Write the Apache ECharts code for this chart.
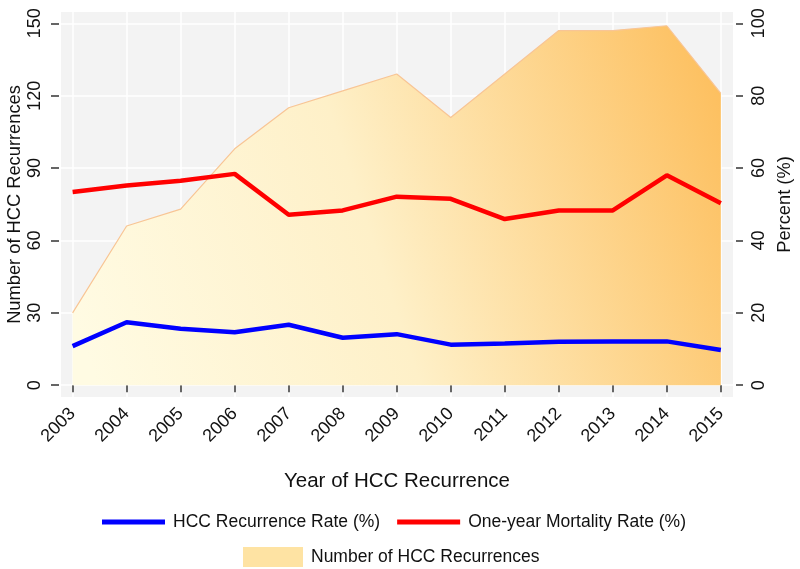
<!DOCTYPE html>
<html>
<head>
<meta charset="utf-8">
<script src="https://cdn.jsdelivr.net/npm/echarts@6/dist/echarts.min.js"></script>
<style>
  html, body { margin: 0; padding: 0; background: #fff; }
  #main { width: 800px; height: 569px; }
</style>
</head>
<body>
<div id="main"></div>
<script>
var years = [2003, 2004, 2005, 2006, 2007, 2008, 2009, 2010, 2011, 2012, 2013, 2014, 2015];
var recurrences = [30, 66, 73, 98, 115, 122, 129, 111, 129, 147, 147, 149, 121];
var recurrenceRate = [10.8, 17.4, 15.6, 14.6, 16.7, 13.1, 14.1, 11.2, 11.5, 12.0, 12.1, 12.1, 9.7];
var mortalityRate = [53.4, 55.2, 56.5, 58.4, 47.1, 48.3, 52.1, 51.5, 45.9, 48.3, 48.3, 58.0, 50.3];
var leftTicks = [0, 30, 60, 90, 120, 150];
var rightTicks = [0, 20, 40, 60, 80, 100];

function pairs(vals) {
    var out = [];
    for (var i = 0; i < years.length; i++) {
        out.push([years[i], vals[i]]);
    }
    return out;
}

var font = 'Liberation Sans, Arial, sans-serif';
var myChart = echarts.init(document.getElementById('main'));

var option = {
    animation: false,
    textStyle: { fontFamily: font },
    grid: {
        left: 61, right: 67, top: 12, bottom: 172,
        outerBoundsMode: 'none',
        containLabel: false,
        show: true,
        backgroundColor: '#f3f3f3',
        borderWidth: 0
    },
    legend: [
        {
            left: 97, top: 508,
            icon: 'rect',
            itemWidth: 63, itemHeight: 5,
            itemGap: 17,
            textStyle: { fontSize: 17.5, color: '#111', fontFamily: font, padding: [0, 0, 0, 3] },
            data: ['HCC Recurrence Rate (%)', 'One-year Mortality Rate (%)']
        },
        {
            left: 238, top: 542,
            icon: 'rect',
            itemWidth: 60, itemHeight: 20,
            textStyle: { fontSize: 17.5, color: '#111', fontFamily: font, padding: [0, 0, 0, 3] },
            data: [{ name: 'Number of HCC Recurrences', itemStyle: { color: '#fee3a3' } }]
        }
    ],
    xAxis: {
        type: 'value',
        min: 2002.785,
        max: 2015.225,
        offset: 2,
        name: 'Year of HCC Recurrence',
        nameLocation: 'middle',
        nameGap: 72,
        nameTextStyle: { fontSize: 20.5, color: '#111', fontFamily: font },
        axisLine: { show: false },
        axisTick: { show: true, length: 7, customValues: years, lineStyle: { color: '#333', width: 1.5 } },
        axisLabel: {
            customValues: years,
            rotate: 45,
            margin: 12,
            fontSize: 18,
            color: '#111',
            formatter: function (v) { return String(v); }
        },
        splitLine: { show: true, lineStyle: { color: '#ffffff', width: 1.5 } }
    },
    yAxis: [
        {
            type: 'value',
            min: -4.9,
            max: 154.7,
            offset: 2,
            position: 'left',
            name: 'Number of HCC Recurrences',
            nameLocation: 'middle',
            nameRotate: 90,
            nameGap: 35,
            nameMoveOverlap: false,
            nameTextStyle: { fontSize: 18.3, color: '#111', fontFamily: font },
            axisLine: { show: false },
            axisTick: { show: true, length: 8, customValues: leftTicks, lineStyle: { color: '#333', width: 1.5 } },
            axisLabel: {
                customValues: leftTicks,
                rotate: 90,
                margin: 15,
                fontSize: 18,
                color: '#111'
            },
            splitLine: { show: true, lineStyle: { color: '#ffffff', width: 1.5 } }
        },
        {
            type: 'value',
            min: -3.267,
            max: 103.133,
            offset: 3,
            position: 'right',
            name: 'Percent (%)',
            nameLocation: 'middle',
            nameRotate: 90,
            nameGap: 36,
            nameTextStyle: { fontSize: 18.3, color: '#111', fontFamily: font, padding: [0, 0, 18, 0] },
            axisLine: { show: false },
            axisTick: { show: true, length: 7, customValues: rightTicks, lineStyle: { color: '#333', width: 1.5 } },
            axisLabel: {
                customValues: rightTicks,
                rotate: 90,
                margin: 14,
                fontSize: 18,
                color: '#111'
            },
            splitLine: { show: false }
        }
    ],
    series: [
        {
            name: 'Number of HCC Recurrences',
            type: 'line',
            yAxisIndex: 0,
            symbol: 'none',
            data: pairs(recurrences),
            lineStyle: { color: '#f8c595', width: 1.2 },
            itemStyle: { color: '#fee3a3' },
            areaStyle: {
                opacity: 1,
                color: new echarts.graphic.LinearGradient(0, 0.8, 1, 0.2, [
                    { offset: 0, color: '#fffbe3' },
                    { offset: 0.45, color: '#fef0c8' },
                    { offset: 1, color: '#fdc060' }
                ])
            },
            z: 1
        },
        {
            name: 'HCC Recurrence Rate (%)',
            type: 'line',
            yAxisIndex: 1,
            symbol: 'none',
            data: pairs(recurrenceRate),
            lineStyle: { color: '#0000ff', width: 4.5 },
            itemStyle: { color: '#0000ff' },
            z: 3
        },
        {
            name: 'One-year Mortality Rate (%)',
            type: 'line',
            yAxisIndex: 1,
            symbol: 'none',
            data: pairs(mortalityRate),
            lineStyle: { color: '#ff0000', width: 4.5 },
            itemStyle: { color: '#ff0000' },
            z: 3
        }
    ]
};
myChart.setOption(option);
</script>
</body>
</html>
